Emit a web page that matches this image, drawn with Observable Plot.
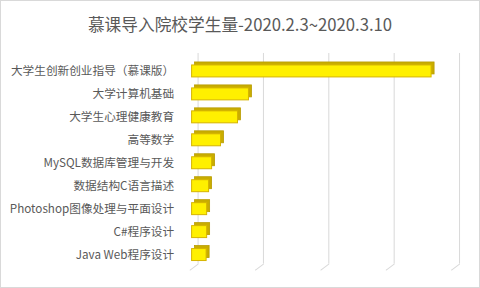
<!DOCTYPE html>
<html>
<head>
<meta charset="utf-8">
<script src="https://cdn.jsdelivr.net/npm/d3@7"></script>
<script src="https://cdn.jsdelivr.net/npm/@observablehq/plot@0.6"></script>
<style>
  html, body { margin: 0; padding: 0; background: #fff; }
  #wrap { position: relative; width: 480px; height: 288px; box-sizing: border-box; border: 1px solid #d9d9d9; background: #fff; overflow: hidden; }
  #title { position: absolute; left: 0; top: 0; width: 478px; height: 41px; text-align: center; font-family: "Noto Sans CJK SC", "Noto Sans", sans-serif; font-size: 16.7px; color: #595959; line-height: 46px; }
  #chart { position: absolute; left: -1px; top: 41px; }
</style>
</head>
<body>
<div id="wrap">
  <div id="title">慕课导入院校学生量-2020.2.3~2020.3.10</div>
  <div id="chart"></div>
</div>
<script>
const categories = [
  "大学生创新创业指导（慕课版）",
  "大学计算机基础",
  "大学生心理健康教育",
  "高等数学",
  "MySQL数据库管理与开发",
  "数据结构C语言描述",
  "Photoshop图像处理与平面设计",
  "C#程序设计",
  "Java Web程序设计"
];
const values = [1832, 435, 351, 221, 153, 130, 115, 115, 111];
const gridTicks = [0, 500, 1000, 1500, 2000];

const data = categories.map((c, i) => ({category: c, value: values[i]}));

const chart = Plot.plot({
  width: 480,
  height: 246,
  marginLeft: 192,
  marginRight: 26,
  marginTop: 15,
  marginBottom: 20,
  style: {fontFamily: "'Noto Sans CJK SC', 'Noto Sans', sans-serif", fontSize: "11.7px", color: "#595959", background: "transparent"},
  x: {domain: [0, 2000], axis: null},
  y: {domain: categories, paddingInner: 0.5, paddingOuter: 0.25, label: null, tickSize: 0, tickPadding: 18},
  marks: [
    Plot.ruleX(gridTicks, {stroke: "#d9d9d9", strokeWidth: 1, strokeOpacity: 1, dx: 6, dy: -4}),
    Plot.vector(gridTicks, {x: d => d, frameAnchor: "bottom", length: 10, rotate: 233, anchor: "start", r: 0, stroke: "#d9d9d9", strokeWidth: 1, dx: 6, dy: -4}),
    Plot.barX(data, {x: "value", y: "category", fill: "#c9ad00", stroke: "#b89c00", strokeWidth: 0.8, dx: 3, dy: -3}),
    Plot.barX(data, {x: "value", y: "category", fill: "#FFF000", stroke: "#d6b400", strokeWidth: 1})
  ]
});
document.getElementById("chart").appendChild(chart);
</script>
</body>
</html>
